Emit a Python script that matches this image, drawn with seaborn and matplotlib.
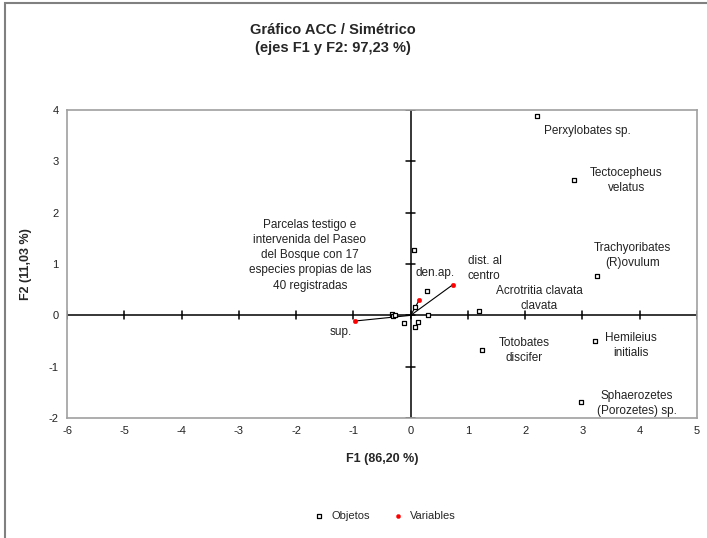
import numpy as np
import pandas as pd
import seaborn as sns
import matplotlib.pyplot as plt
from matplotlib.patches import Rectangle

# objetos (especies) en F1/F2
obj_f1 = [2.20, 2.85, 3.26, 1.19, 1.25, 3.22, 2.98,
          0.05, 0.28, 0.08, 0.31, -0.11, 0.12, 0.08, -0.33, -0.30, -0.27]
obj_f2 = [3.88, 2.64, 0.77, 0.09, -0.68, -0.50, -1.69,
          1.28, 0.47, 0.17, 0.00, -0.15, -0.13, -0.23, 0.03, -0.02, 0.00]
obj_names = ["Perxylobates sp.", "Tectocepheus\nvelatus", "Trachyoribates\n(R)ovulum",
             "Acrotritia clavata\nclavata", "Totobates\ndiscifer", "Hemileius\ninitialis",
             "Sphaerozetes\n(Porozetes) sp."] + [""] * 10

# variables
var_f1 = [-0.97, 0.15, 0.74]
var_f2 = [-0.11, 0.30, 0.60]
var_names = ["sup.", "den.ap.", "dist. al\ncentro"]

xticks = list(range(-6, 6))
yticks = list(range(-2, 5))

sns.set_style("white")
plt.rcParams['font.family'] = ['Liberation Sans', 'DejaVu Sans']
plt.rcParams['axes.unicode_minus'] = False

fig = plt.figure(figsize=(7.07, 5.38), dpi=100)
ax = fig.add_axes([0.0948, 0.2230, 0.8911, 0.5725])

df_obj = pd.DataFrame({"F1": obj_f1, "F2": obj_f2, "tipo": "Objetos"})
df_var = pd.DataFrame({"F1": var_f1, "F2": var_f2, "tipo": "Variables"})

# flechas de variables
for x, y in zip(var_f1, var_f2):
    ax.plot([0, x], [0, y], color="black", lw=0.8, zorder=2)

ax.axhline(0, color="black", lw=1.1, zorder=1)
ax.axvline(0, color="black", lw=1.1, zorder=1)
for t in xticks:
    ax.plot([t, t], [-0.08, 0.08], color="black", lw=1.1, zorder=1)
for t in yticks:
    ax.plot([-0.08, 0.08], [t, t], color="black", lw=1.1, zorder=1)

sns.scatterplot(data=df_obj, x="F1", y="F2", marker="s", s=9, facecolor="white",
                edgecolor="black", linewidth=0.9, ax=ax, zorder=3, label="Objetos")
sns.scatterplot(data=df_var, x="F1", y="F2", marker="o", s=11, color="red",
                edgecolor="red", ax=ax, zorder=4, label="Variables")

txt = dict(fontsize=8.5, color="#222222", linespacing=1.35)
ax.text(2.33, 3.59, obj_names[0], ha="left", va="center", **txt)
ax.text(3.77, 2.62, obj_names[1], ha="center", va="center", **txt)
ax.text(3.88, 1.17, obj_names[2], ha="center", va="center", **txt)
ax.text(2.24, 0.33, obj_names[3], ha="center", va="center", **txt)
ax.text(1.98, -0.68, obj_names[4], ha="center", va="center", **txt)
ax.text(3.84, -0.58, obj_names[5], ha="center", va="center", **txt)
ax.text(3.95, -1.71, obj_names[6], ha="center", va="center", **txt)
ax.text(-1.76, 1.17, "Parcelas testigo e\nintervenida del Paseo\ndel Bosque con 17\n"
        "especies propias de las\n40 registradas", ha="center", va="center", **txt)
ax.text(-1.41, -0.33, var_names[0], ha="left", va="center", **txt)
ax.text(0.09, 0.83, var_names[1], ha="left", va="center", **txt)
ax.text(1.0, 0.91, var_names[2], ha="left", va="center", **txt)

ax.set_xlim(-6, 5)
ax.set_ylim(-2, 4)
ax.set_xticks(xticks)
ax.set_yticks(yticks)
ax.tick_params(length=0, labelsize=8, colors="#222222", pad=6)
for sp in ax.spines.values():
    sp.set_color("#a0a0a0")
    sp.set_linewidth(1.2)

ax.set_xlabel("F1 (86,20 %)", fontsize=9, fontweight="bold", labelpad=12)
ax.set_ylabel("F2 (11,03 %)", fontsize=9, fontweight="bold", labelpad=12)

ax.legend(loc="upper center", bbox_to_anchor=(0.5, -0.27), ncol=2, frameon=False,
          fontsize=8, handletextpad=0.1, columnspacing=1.5, markerscale=0.9)

fig.text(0.471, 0.928, "Gráfico ACC / Simétrico\n(ejes F1 y F2: 97,23 %)", ha="center",
         va="center", fontsize=10.5, fontweight="bold", linespacing=1.4,
         family=['Liberation Sans Narrow', 'Liberation Sans', 'DejaVu Sans'])

fig.patches.append(Rectangle((0.007, -0.05), 1.2, 1.045, transform=fig.transFigure,
                             fill=False, edgecolor="#808080", lw=1.5))

fig.savefig("out.png", dpi=100)
